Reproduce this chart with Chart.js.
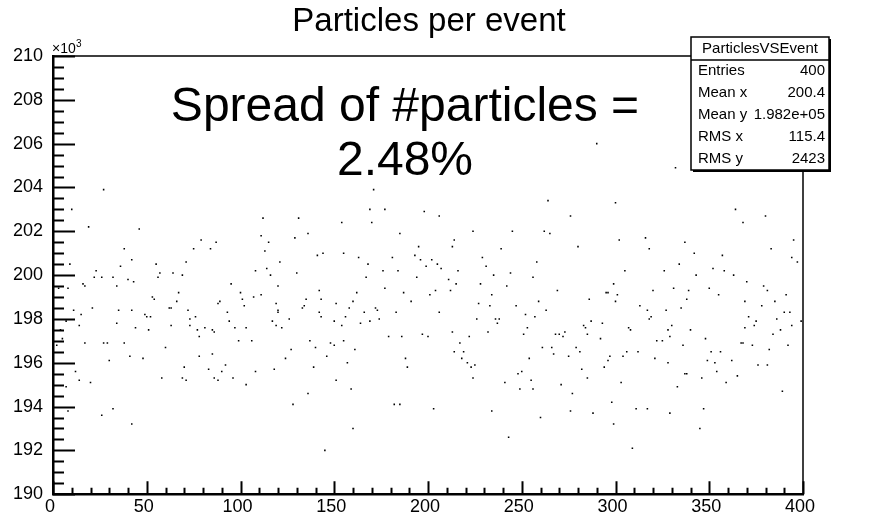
<!DOCTYPE html>
<html>
<head>
<meta charset="utf-8">
<script src="https://cdn.jsdelivr.net/npm/chart.js@4.4.1/dist/chart.umd.min.js"></script>
<style>
  html, body { margin: 0; padding: 0; background: #fff; }
</style>
</head>
<body>
<canvas id="scatterChart" width="876" height="515"></canvas>
<script>
// event number (x) and number of particles in thousands (y)
const eventNumber = [
  27,10,19,38,9,23,36,22,26,32,16,34,3,8,17,11,21,15,35,7,14,34,4,5,2,17,27,29,38,30,12,14,20,7,8,32,26,
  46,75,42,55,71,57,56,64,69,40,43,67,53,54,66,63,62,42,72,49,50,52,76,73,44,51,63,73,77,78,60,41,48,70,58,69,71,42,
  112,111,79,87,84,115,113,108,114,116,95,100,111,107,89,88,101,102,93,94,117,81,85,86,97,103,99,106,78,85,92,83,90,108,118,86,88,96,103,
  131,154,129,136,141,144,155,121,130,120,142,135,143,119,120,120,133,134,151,158,142,143,126,119,122,150,156,154,137,140,148,150,155,127,146,124,139,157,151,136,128,145,
  171,169,177,198,170,185,195,193,196,163,181,168,176,184,167,194,177,162,187,160,191,172,173,166,183,164,169,174,179,186,197,161,188,189,159,182,185,160,
  206,224,214,213,229,199,202,205,207,231,216,235,211,215,228,204,212,201,234,227,233,206,226,236,238,237,232,200,213,222,217,214,219,218,221,223,225,224,203,234,
  264,276,245,262,265,239,258,244,256,242,269,259,247,263,252,257,253,251,268,270,273,272,261,266,267,254,275,250,248,255,241,271,249,256,277,276,260,243,
  290,300,302,316,280,318,305,299,295,296,301,286,300,313,317,318,293,287,283,284,307,308,285,292,279,281,306,312,297,296,304,294,282,285,303,298,288,311,317,299,309,
  332,337,342,357,334,326,343,352,358,331,320,339,350,355,338,335,327,319,330,328,340,329,322,325,348,336,351,356,321,328,349,353,354,337,338,346,333,329,347,345,
  364,368,380,395,383,394,397,363,370,379,381,391,369,385,378,390,393,386,371,375,374,369,394,388,384,399,367,368,373,392,382,362,376,381,365,359,389
];
const particlesK = [
  203.9,203.0,202.2,201.2,200.5,200.2,200.4,199.9,199.9,199.9,199.6,199.5,199.4,199.4,199.5,198.4,198.5,198.2,198.4,197.9,197.7,197.8,197.5,197.1,196.8,196.9,196.9,196.9,196.9,196.1,195.6,195.2,195.1,194.9,193.8,193.9,193.6,
  202.1,201.2,200.7,200.5,200.6,200.1,199.9,200.1,200.0,199.8,199.7,199.2,199.0,198.9,198.8,198.5,198.5,198.4,198.4,198.2,198.1,198.1,198.1,198.0,197.6,197.5,197.7,197.7,197.5,197.2,196.7,196.3,196.2,195.8,195.3,195.3,195.2,193.2,
  202.6,201.8,201.6,201.5,201.2,201.5,201.1,200.2,200.3,200.0,199.6,199.2,199.1,199.0,198.8,198.7,198.9,198.6,198.3,197.9,197.9,197.6,197.5,197.4,197.6,197.6,197.0,197.0,196.3,196.4,195.9,195.7,195.6,195.6,195.7,195.3,195.2,195.3,195.0,
  202.6,202.4,201.7,201.9,200.9,201.0,201.0,200.6,200.1,199.5,199.3,198.9,198.9,198.7,198.4,198.3,198.5,198.6,198.7,198.5,198.3,198.1,198.0,197.7,197.6,197.9,198.1,197.7,197.0,196.7,196.9,196.8,197.0,196.6,196.3,196.2,195.8,196.0,195.2,194.6,194.1,192.0,
  203.9,203.0,203.0,202.9,202.4,201.9,201.3,200.9,200.7,200.8,200.8,200.5,200.2,200.2,199.9,199.9,199.4,199.2,199.2,198.8,198.8,198.5,198.4,198.3,198.3,197.8,197.9,198.0,197.2,197.2,197.3,196.6,196.2,195.8,194.8,194.1,194.1,193.0,
  202.7,202.0,201.6,201.3,200.8,200.4,200.7,200.5,200.3,200.4,200.2,200.0,199.8,199.6,199.6,199.3,199.3,199.1,199.1,198.7,198.6,198.3,198.0,198.0,198.0,197.8,197.4,197.2,197.4,197.2,196.9,196.5,196.5,196.2,196.0,195.8,195.9,195.3,193.9,193.8,
  203.4,202.7,202.0,202.0,201.9,201.2,200.6,200.1,199.9,199.5,199.3,198.8,198.6,198.4,198.2,198.1,197.6,197.3,197.3,197.3,197.4,197.2,196.7,196.7,196.4,196.2,196.3,195.6,195.5,195.2,195.1,195.0,194.8,194.8,194.6,193.8,193.5,192.6,
  206.0,203.3,201.6,201.7,201.3,201.2,200.2,199.6,199.2,199.2,199.1,198.9,198.8,198.6,198.4,198.0,197.8,197.9,197.7,197.6,197.6,197.5,197.3,197.1,196.7,196.5,196.5,196.5,196.3,196.1,196.3,195.8,195.7,195.3,195.1,194.2,193.7,193.9,193.9,193.2,192.1,
  204.9,201.5,201.0,200.9,200.5,200.2,200.0,200.3,200.2,199.4,199.3,199.3,199.4,199.1,198.9,198.5,198.4,198.1,197.7,197.5,197.5,197.2,197.0,197.0,197.1,196.8,196.5,196.5,196.2,196.0,196.1,196.0,195.6,195.5,195.5,195.3,194.9,193.7,193.9,193.0,
  203.0,202.4,202.7,201.6,201.2,200.8,200.6,200.0,199.7,199.5,199.3,199.1,198.8,198.8,198.6,198.3,198.3,198.0,198.1,197.9,197.7,197.6,197.7,197.5,197.3,197.9,196.9,196.9,196.8,196.8,196.6,196.1,195.9,195.9,195.4,195.1,194.7
];

const statsLabels = ["Entries", "Mean x", "Mean y", "RMS x", "RMS y"];
const statsValues = ["400", "200.4", "1.982e+05", "115.4", "2423"];
const statsName = "ParticlesVSEvent";
const titleText = "Particles per event";
const spreadLines = ["Spread of #particles =", "2.48%"];

const FONT = '"Liberation Sans", Arial, Helvetica, sans-serif';

const points = eventNumber.map((x, i) => ({ x: x, y: particlesK[i] * 1000 }));

// ROOT style frame: ticks pointing inwards, stats box, titles
const rootFrame = {
  id: "rootFrame",
  afterDatasetsDraw(chart) {
    const ctx = chart.ctx;
    const a = chart.chartArea;
    const xs = chart.scales.x;
    const ys = chart.scales.y;
    ctx.save();
    ctx.strokeStyle = "#000";
    // top and right frame lines
    ctx.lineWidth = 1.5;
    ctx.beginPath();
    ctx.moveTo(a.left, a.top);
    ctx.lineTo(a.right, a.top);
    ctx.lineTo(a.right, a.bottom);
    ctx.stroke();

    ctx.lineWidth = 2;
    ctx.beginPath();
    for (let v = 190000; v <= 210000; v += 500) {
      const py = Math.round(ys.getPixelForValue(v)) + 0.5;
      const len = v % 2000 === 0 ? 22 : 11;
      ctx.moveTo(a.left, py);
      ctx.lineTo(a.left + len, py);
    }
    for (let v = 0; v <= 400; v += 10) {
      const px = Math.round(xs.getPixelForValue(v)) + 0.5;
      const len = v % 50 === 0 ? 13 : 6.5;
      ctx.moveTo(px, a.bottom);
      ctx.lineTo(px, a.bottom - len);
    }
    ctx.stroke();
    ctx.restore();
  },
  afterDraw(chart) {
    const ctx = chart.ctx;
    ctx.save();
    ctx.fillStyle = "#000";

    // title
    ctx.font = "33px " + FONT;
    ctx.textAlign = "center";
    ctx.textBaseline = "alphabetic";
    ctx.fillText(titleText, 429, 31);

    // x10^3 exponent
    ctx.textAlign = "left";
    ctx.font = "14px " + FONT;
    ctx.fillText("\u00d710", 52, 53);
    ctx.font = "10px " + FONT;
    ctx.fillText("3", 76, 47);

    // big label
    ctx.textAlign = "center";
    ctx.font = "48px " + FONT;
    ctx.fillText(spreadLines[0], 405, 121);
    ctx.fillText(spreadLines[1], 405, 175);

    // stats box
    const L = 691, T = 37, R = 829, B = 170, H = 60;
    ctx.fillStyle = "#fff";
    ctx.fillRect(L, T, R - L, B - T);
    ctx.fillStyle = "#000";
    ctx.fillRect(L + 2, B, R - L, 2);
    ctx.fillRect(R, T + 2, 2, B - T);
    ctx.strokeStyle = "#000";
    ctx.lineWidth = 1.5;
    ctx.strokeRect(L, T, R - L, B - T);
    ctx.beginPath();
    ctx.moveTo(L, H);
    ctx.lineTo(R, H);
    ctx.stroke();

    ctx.font = "15px " + FONT;
    ctx.textBaseline = "middle";
    ctx.textAlign = "center";
    ctx.fillText(statsName, (L + R) / 2, 49);
    const rowH = (B - H) / statsLabels.length;
    statsLabels.forEach((lab, i) => {
      const cy = H + rowH * (i + 0.5);
      ctx.textAlign = "left";
      ctx.fillText(lab, L + 7, cy);
      ctx.textAlign = "right";
      ctx.fillText(statsValues[i], R - 4, cy);
    });
    ctx.restore();
  }
};

new Chart(document.getElementById("scatterChart"), {
  type: "scatter",
  data: {
    datasets: [
      {
        data: points,
        backgroundColor: "#000",
        borderColor: "#000",
        borderWidth: 0,
        pointStyle: "rect",
        pointRadius: 1.1,
        pointHoverRadius: 1.1,
      },
    ],
  },
  options: {
    responsive: false,
    animation: false,
    events: [],
    layout: { padding: { top: 56, right: 73, left: 0, bottom: 0 } },
    plugins: {
      legend: { display: false },
      tooltip: { enabled: false },
      title: { display: false },
    },
    scales: {
      x: {
        type: "linear",
        min: 0,
        max: 400,
        afterFit: (s) => { s.height = 19; },
        grid: { display: false, drawTicks: false },
        border: { display: true, color: "#000", width: 2.5 },
        ticks: {
          stepSize: 50,
          color: "#000",
          padding: 2,
          labelOffset: -3,
          maxRotation: 0,
          autoSkip: false,
          font: { family: FONT, size: 18 },
        },
      },
      y: {
        type: "linear",
        min: 190000,
        max: 210000,
        afterFit: (s) => { s.width = 53; },
        grid: { display: false, drawTicks: false },
        border: { display: true, color: "#000", width: 2.5 },
        ticks: {
          stepSize: 2000,
          color: "#000",
          padding: 10,
          autoSkip: false,
          font: { family: FONT, size: 18 },
          callback: (v) => String(v / 1000),
        },
      },
    },
  },
  plugins: [rootFrame],
});
</script>
</body>
</html>
